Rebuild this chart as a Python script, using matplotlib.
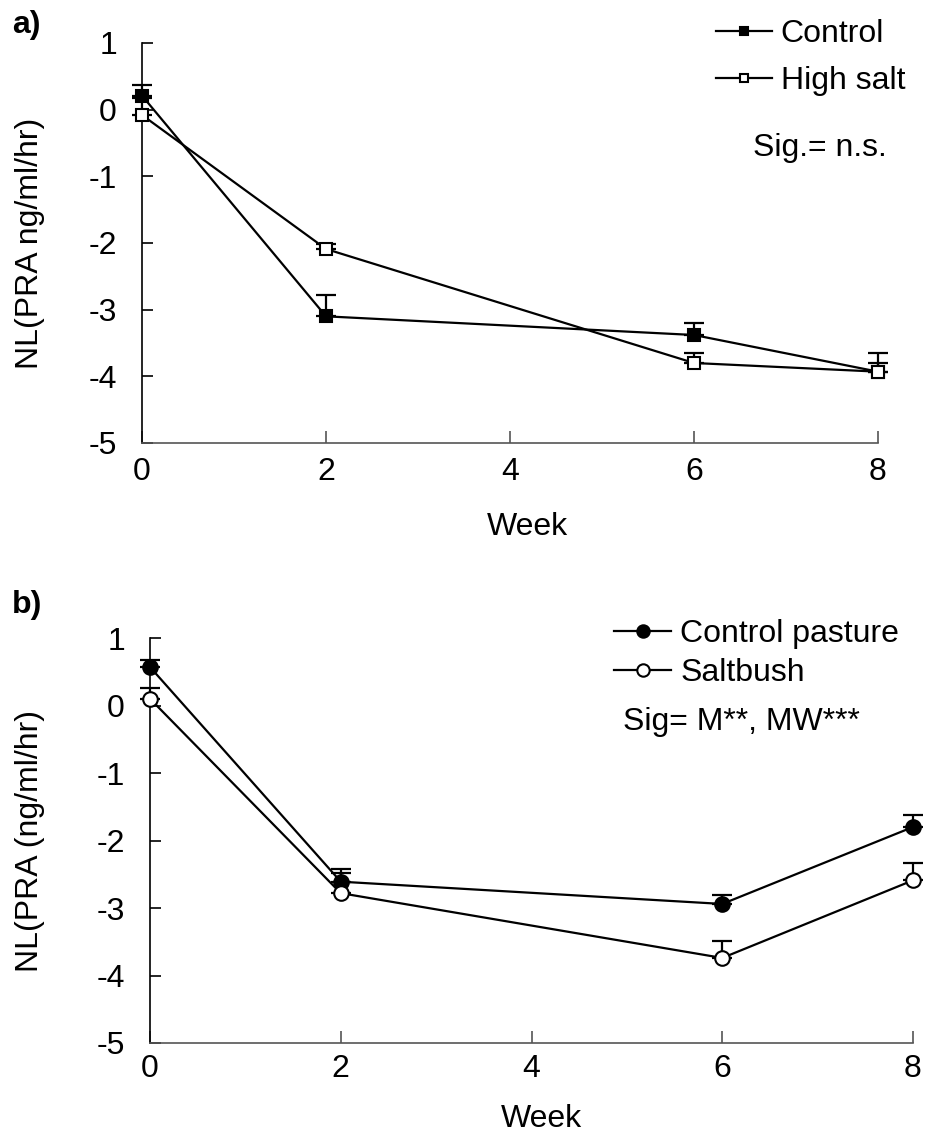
import matplotlib
matplotlib.use("Agg")
import matplotlib.pyplot as plt
import numpy as np

plt.rcParams['font.family'] = ['Liberation Sans', 'DejaVu Sans']
plt.rcParams['axes.unicode_minus'] = False

weeks = [0, 2, 6, 8]
x_ticks = [0, 2, 4, 6, 8]
y_ticks = [-5, -4, -3, -2, -1, 0, 1]

# Panel a
control_a = [0.21, -3.10, -3.38, -3.93]
control_a_err = [0.16, 0.32, 0.18, 0.13]
highsalt_a = [-0.08, -2.09, -3.80, -3.93]
highsalt_a_err = [0.25, 0.07, 0.15, 0.28]

# Panel b
pasture_b = [0.57, -2.61, -2.94, -1.80]
pasture_b_err = [0.10, 0.19, 0.14, 0.18]
saltbush_b = [0.10, -2.78, -3.74, -2.59]
saltbush_b_err = [0.16, 0.30, 0.25, 0.26]

W, H = 929, 1133
fig = plt.figure(figsize=(W/100, H/100), dpi=100)

def rect(l, r, t, b):
    return [l/W, 1-b/H, (r-l)/W, (b-t)/H]

ax1 = fig.add_axes(rect(142, 878, 43, 443))
ax2 = fig.add_axes(rect(150, 913, 638, 1043))

FS = 23

def style(ax, ypad, xpad):
    ax.set_xlim(0, 8)
    ax.set_ylim(-5, 1)
    ax.set_xticks(x_ticks)
    ax.set_yticks(y_ticks)
    ax.spines['top'].set_visible(False)
    ax.spines['right'].set_visible(False)
    ax.spines['left'].set_linewidth(1.2)
    ax.spines['bottom'].set_linewidth(1.2)
    ax.spines['bottom'].set_color('#555555')
    ax.tick_params(axis='y', direction='in', length=8, width=1.2, labelsize=FS, pad=ypad)
    ax.tick_params(axis='x', direction='in', length=9, width=1.2, labelsize=FS, pad=xpad, color='#555555')

def series(ax, y, err, marker, face, ms):
    lower = np.zeros(len(err))
    ax.errorbar(weeks, y, yerr=[lower, err], fmt='none', ecolor='black',
                elinewidth=1.6, capsize=7, capthick=1.6, clip_on=False, zorder=2)
    line, = ax.plot(weeks, y, color='black', lw=1.6, marker=marker, ms=ms,
                    mfc=face, mec='black', mew=1.5, clip_on=False, zorder=3)
    return line

style(ax1, 18, 10)
l1 = series(ax1, control_a, control_a_err, 's', 'black', 8.5)
l2 = series(ax1, highsalt_a, highsalt_a_err, 's', 'white', 8.5)
ax1.set_ylabel('NL(PRA ng/ml/hr)', fontsize=FS)
ax1.yaxis.set_label_coords((30-142)/736, 0.5)
ax1.set_xlabel('Week', fontsize=FS)
ax1.xaxis.set_label_coords((527-142)/736, -(527-443)/400)
ax1.xaxis.label.set_va('center')
ax1.yaxis.label.set_va('center')

leg1 = fig.legend([l1, l2], ['Control', 'High salt'], loc='upper left',
                  bbox_to_anchor=(716/W, 1-19/H), frameon=False, fontsize=FS,
                  handlelength=1.75, handletextpad=0.28, labelspacing=0.53,
                  borderpad=0, borderaxespad=0, markerscale=0.7)
fig.text(753/W, 1-148/H, 'Sig.= n.s.', fontsize=FS, va='center', ha='left')
fig.text(12/W, 1-25/H, 'a)', fontsize=FS, fontweight='bold', va='center', ha='left')

style(ax2, 18, 8)
l3 = series(ax2, pasture_b, pasture_b_err, 'o', 'black', 10.5)
l4 = series(ax2, saltbush_b, saltbush_b_err, 'o', 'white', 10.5)
ax2.set_ylabel('NL(PRA (ng/ml/hr)', fontsize=FS)
ax2.yaxis.set_label_coords((30-150)/763, 0.5)
ax2.set_xlabel('Week', fontsize=FS)
ax2.xaxis.set_label_coords((541-150)/763, -(1119-1043)/405)
ax2.xaxis.label.set_va('center')
ax2.yaxis.label.set_va('center')

leg2 = fig.legend([l3, l4], ['Control pasture', 'Saltbush'], loc='upper left',
                  bbox_to_anchor=(614/W, 1-619/H), frameon=False, fontsize=FS,
                  handlelength=1.8, handletextpad=0.28, labelspacing=0.28,
                  borderpad=0, borderaxespad=0, markerscale=0.85)
fig.text(623/W, 1-722/H, 'Sig= M**, MW***', fontsize=FS, va='center', ha='left')
fig.text(12/W, 1-605/H, 'b)', fontsize=FS, fontweight='bold', va='center', ha='left')

fig.savefig('out.png', dpi=100)
